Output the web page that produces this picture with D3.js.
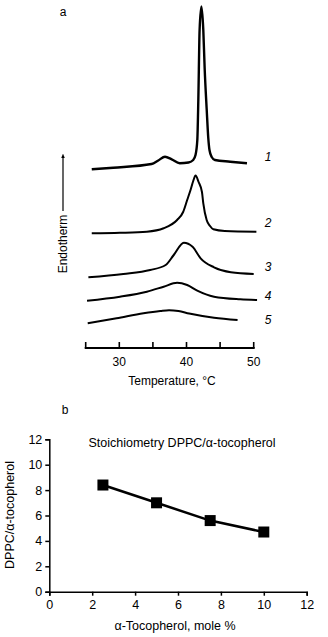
<!DOCTYPE html>
<html><head><meta charset="utf-8">
<script src="https://cdn.jsdelivr.net/npm/d3@7"></script>
<style>
html,body{margin:0;padding:0;background:#fff;}
svg{display:block;font-family:"Liberation Sans",Arial,sans-serif;}
</style></head>
<body>
<script>
// ---- Panel a: DSC thermograms (temperature °C, heat flow arbitrary units incl. offset) ----
const curve1T = [25.9,29.1,34.8,35.8,36.8,37.8,39.0,40.3,41.0,41.34,41.61,41.76,41.95,42.22,42.5,42.7,43.01,43.24,43.42,43.75,44.24,46.5,49.0];
const curve1V = [178.7,180.3,184,187.5,191.3,188.7,184.7,185.5,188,193,208,248,318,341.5,318,280,238,210,198,191,188,186.3,184.7];
const curve2T = [25.9,30.1,34.1,36.6,38.6,39.5,40.1,40.6,41.0,41.35,41.8,42.3,42.5,43.0,43.5,44.0,45.7,50.4];
const curve2V = [114.7,115.2,116.3,119.7,128,136,148,158,167,172.5,166,156,144.7,128,122,118.7,117,116.3];
const curve3T = [25.4,30.6,34.6,36.9,38.1,39.6,40.9,42.1,44.1,46.6,50.0];
const curve3V = [70.7,74,78,83,93,105.3,101.3,89.7,80.7,75.7,74];
const curve4T = [25.2,30.1,34.1,36.6,38.6,40.1,41.6,44.1,48.0,50.5];
const curve4V = [47.3,51.3,56.3,61.3,65.3,63,57.3,51.3,48.7,48];
const curve5T = [25.3,29.6,33.6,36.1,37.4,38.8,40.4,44.1,47.6];
const curve5V = [24.7,29.7,34.7,37,37.8,37,34.5,30.3,28];
const curveNames = ["1","2","3","4","5"];
const curveLabelV = [191,125,81,52,28.7];
const tempTicks = [25,30,35,40,45,50];
const tempTickLabels = ["","30","","40","","50"];

// ---- Panel b: stoichiometry ----
const tocoMole = [2.5,5,7.5,10];
const ratio = [8.4,7.0,5.6,4.7];
const bXTicks = [0,2,4,6,8,10,12];
const bYTicks = [0,2,4,6,8,10,12];

const W = 328, H = 637;
const svg = d3.select("body").append("svg").attr("width",W).attr("height",H);

// Panel a
const xA = d3.scaleLinear().domain([25,50]).range([85.7,253.7]);
const yA = d3.scaleLinear().domain([0,341]).range([348,7]);

svg.append("text").attr("x",63).attr("y",16).attr("text-anchor","middle")
  .attr("font-size",12).text("a");

const curves = [[curve1T,curve1V],[curve2T,curve2V],[curve3T,curve3V],[curve4T,curve4V],[curve5T,curve5V]];
const line = d3.line().x(d=>xA(d[0])).y(d=>yA(d[1])).curve(d3.curveMonotoneX);
curves.forEach(([T,V],i)=>{
  svg.append("path").datum(T.map((t,j)=>[t,V[j]]))
    .attr("d",line).attr("fill","none").attr("stroke","#000")
    .attr("stroke-width", i===0?2.4:2).attr("stroke-linejoin","round");
});
curveNames.forEach((n,i)=>{
  svg.append("text").attr("x",268).attr("y",yA(curveLabelV[i])).attr("dy","0.35em")
    .attr("text-anchor","middle").attr("font-size",12).attr("font-style","italic").text(n);
});

// axis a (ticks upward)
const axA = svg.append("g").attr("transform","translate(0,348)");
axA.append("line").attr("x1",xA(25)-1).attr("x2",xA(50)+1).attr("stroke","#000").attr("stroke-width",2);
tempTicks.forEach((t,i)=>{
  axA.append("line").attr("x1",xA(t)).attr("x2",xA(t)).attr("y1",0).attr("y2",-6)
    .attr("stroke","#000").attr("stroke-width",1.6);
  if(tempTickLabels[i]) axA.append("text").attr("x",xA(t)).attr("y",18).attr("text-anchor","middle")
    .attr("font-size",12).text(tempTickLabels[i]);
});
svg.append("text").attr("x",172).attr("y",385).attr("text-anchor","middle").attr("font-size",12)
  .text("Temperature, °C");

// Endotherm arrow
svg.append("defs").append("marker").attr("id","arr").attr("viewBox","0 0 10 10")
  .attr("refX",5).attr("refY",5).attr("markerWidth",4).attr("markerHeight",6).attr("orient","auto")
  .append("path").attr("d","M0,1 L10,5 L0,9 Z").attr("fill","#000");
svg.append("line").attr("x1",63).attr("x2",63).attr("y1",211).attr("y2",156)
  .attr("stroke","#000").attr("stroke-width",1.2).attr("marker-end","url(#arr)");
svg.append("text").attr("transform","translate(63,244) rotate(-90)").attr("text-anchor","middle")
  .attr("dy","0.35em").attr("font-size",12).text("Endotherm");

// Panel b
const xB = d3.scaleLinear().domain([0,12]).range([49.3,306.7]);
const yB = d3.scaleLinear().domain([0,12]).range([591.7,439.3]);

svg.append("text").attr("x",65).attr("y",414).attr("text-anchor","middle").attr("font-size",12).text("b");

const gx = svg.append("g").attr("transform","translate(0,591.7)")
  .call(d3.axisBottom(xB).tickValues(bXTicks).tickSize(4).tickPadding(4).tickFormat(d3.format("d")));
const gy = svg.append("g").attr("transform","translate(49.3,0)")
  .call(d3.axisLeft(yB).tickValues(bYTicks).tickSize(4).tickPadding(3).tickFormat(d3.format("d")));
[gx,gy].forEach(g=>{
  g.select(".domain").attr("stroke-width",1.5);
  g.selectAll(".tick line").attr("stroke-width",1.5);
  g.selectAll("text").attr("font-size",12.5).attr("font-family","Liberation Sans, Arial, sans-serif").attr("fill","#000");
});

svg.append("text").attr("x",182).attr("y",443).attr("dy","0.35em").attr("text-anchor","middle")
  .attr("font-size",12.5).text("Stoichiometry DPPC/α-tocopherol");

const lineB = d3.line().x((d,i)=>xB(tocoMole[i])).y(d=>yB(d));
svg.append("path").datum(ratio).attr("d",lineB).attr("fill","none").attr("stroke","#000").attr("stroke-width",2.5);
svg.selectAll("rect.pt").data(ratio).enter().append("rect").attr("class","pt")
  .attr("x",(d,i)=>xB(tocoMole[i])-5.5).attr("y",d=>yB(d)-5.5).attr("width",11).attr("height",11).attr("fill","#000");

svg.append("text").attr("x",175).attr("y",626).attr("dy","0.35em").attr("text-anchor","middle")
  .attr("font-size",12.5).text("α-Tocopherol, mole %");
svg.append("text").attr("transform","translate(10,515) rotate(-90)").attr("dy","0.35em")
  .attr("text-anchor","middle").attr("font-size",12.5).text("DPPC/α-tocopherol");
</script>
</body></html>
